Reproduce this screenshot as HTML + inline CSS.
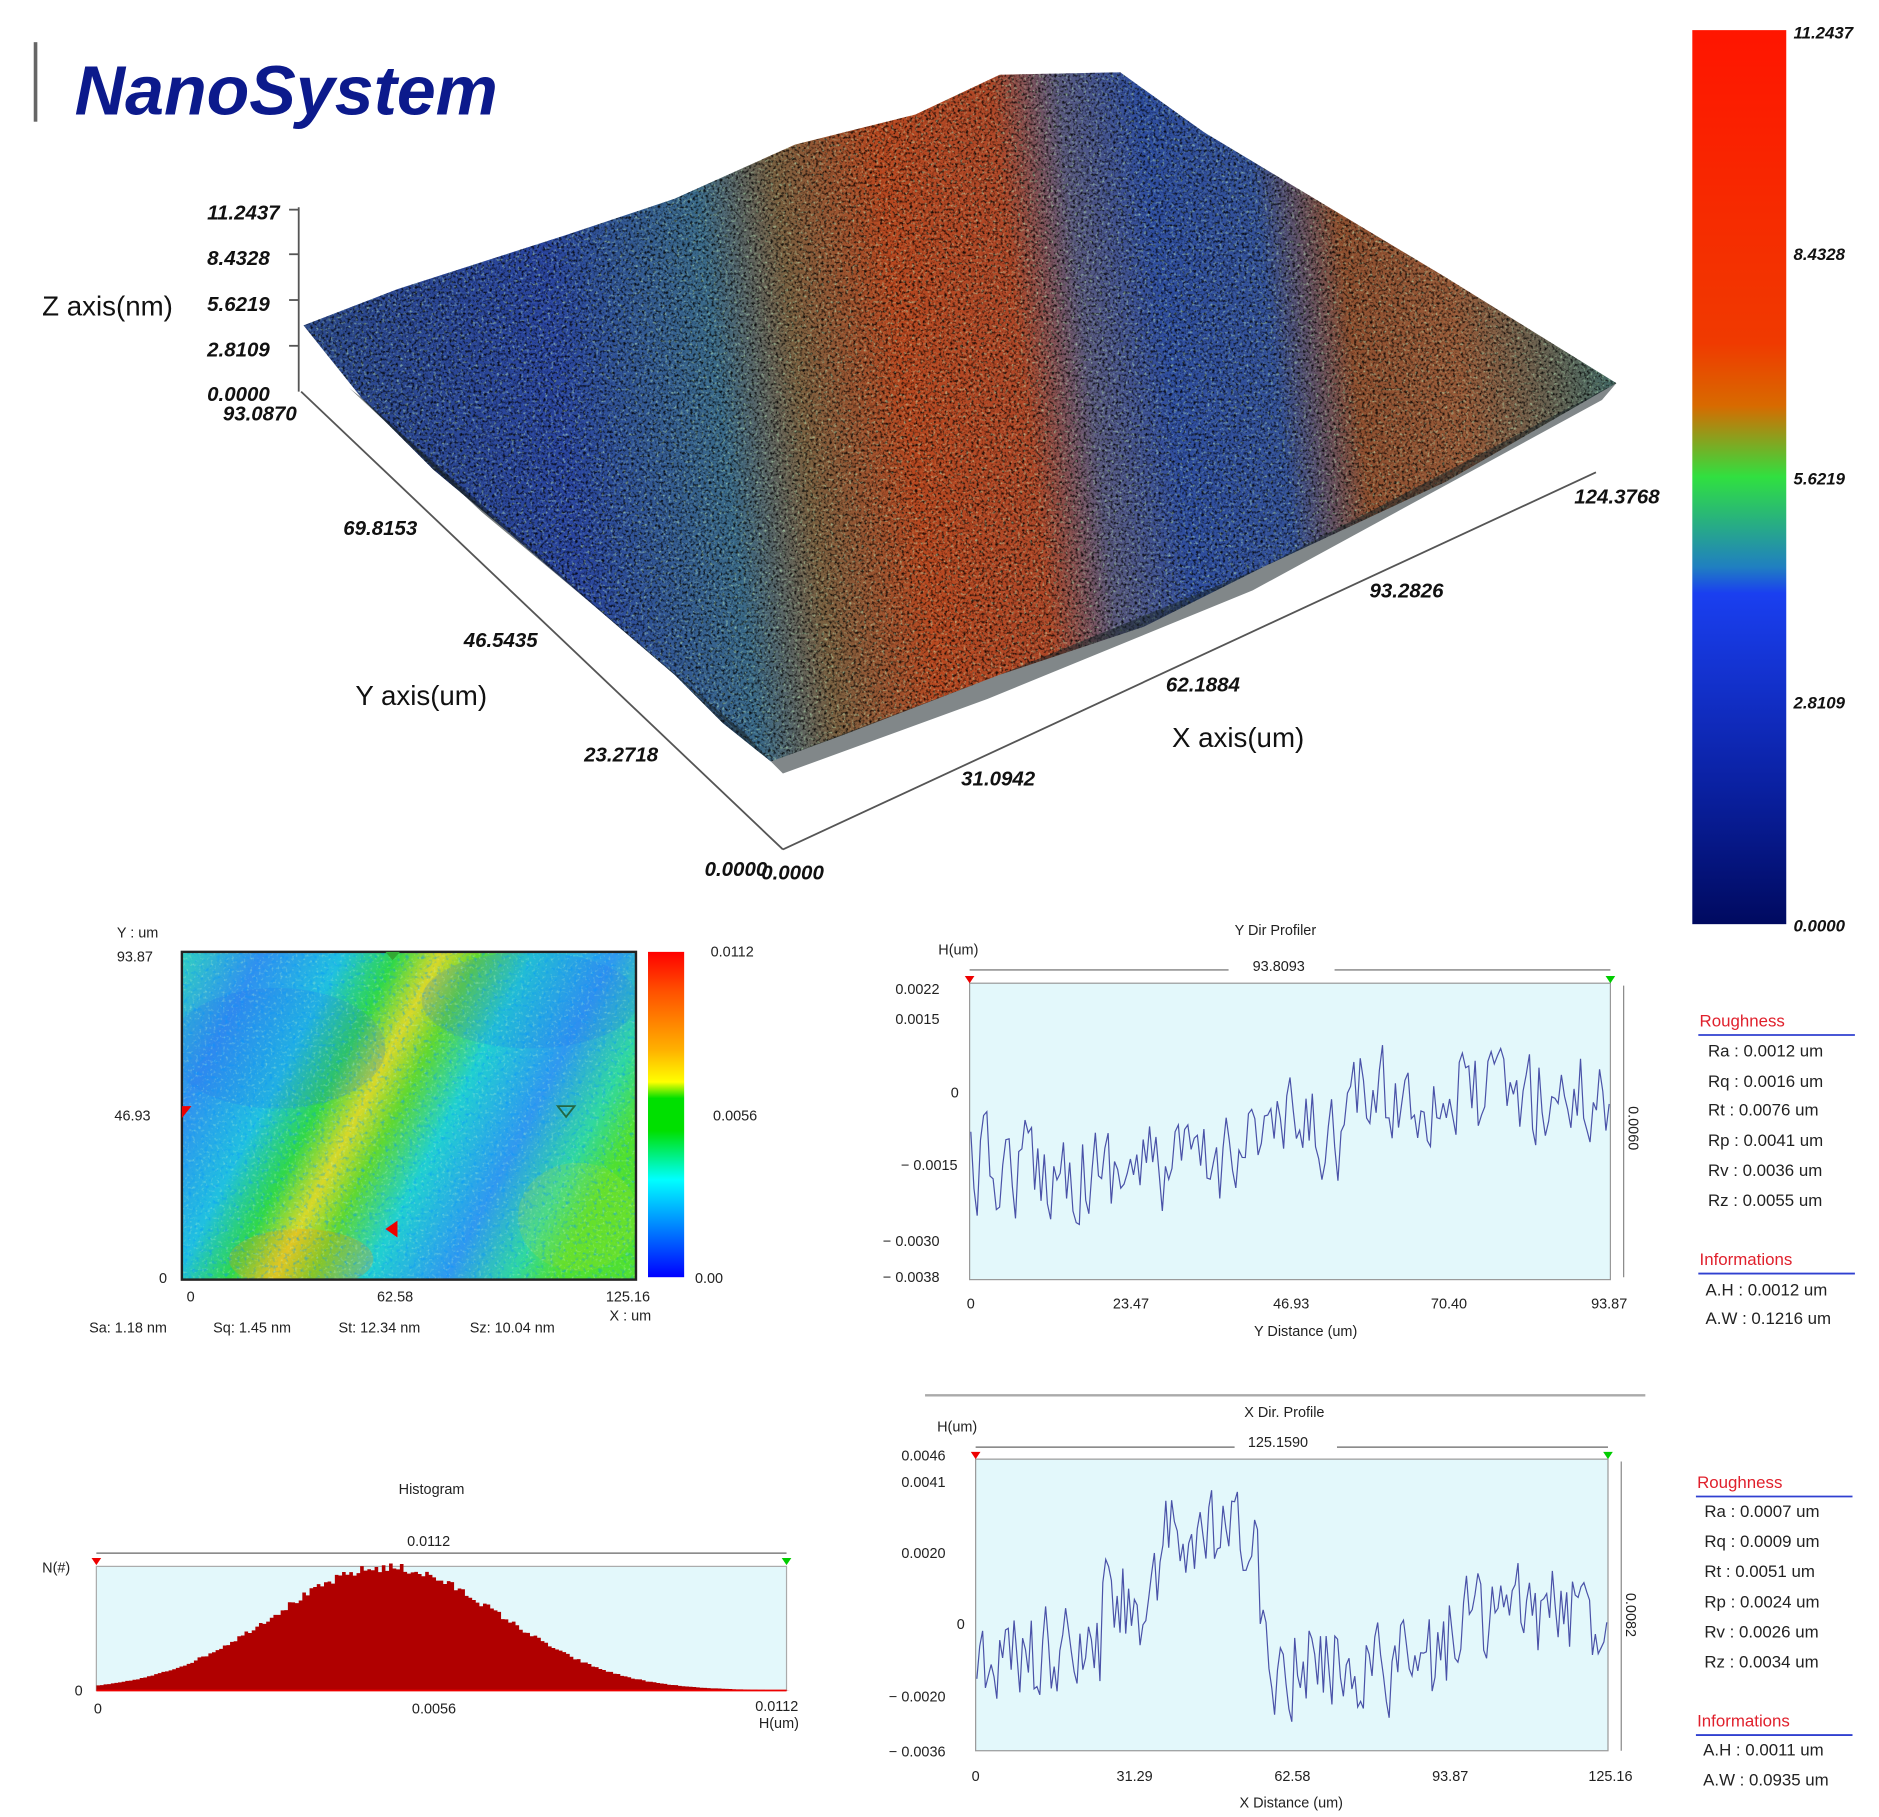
<!DOCTYPE html>
<html><head><meta charset="utf-8"><style>
html,body{margin:0;padding:0;background:#fff;}
svg{display:block;}
text{font-family:"Liberation Sans",sans-serif;}
.bi{font-weight:bold;font-style:italic;fill:#111;}
.sm{font-size:12px;fill:#222;}
.rk{font-size:14px;fill:#222;}
.rh{font-size:14px;fill:#e0202c;}
</style></head><body>
<svg id="s" width="1879" height="1817" viewBox="0 0 1560 1508" preserveAspectRatio="none" xmlns="http://www.w3.org/2000/svg">
<defs>
<linearGradient id="cb" x1="0" y1="0" x2="0" y2="1">
<stop offset="0" stop-color="#ff1500"/><stop offset="0.35" stop-color="#f03a00"/><stop offset="0.42" stop-color="#d86a00"/><stop offset="0.5" stop-color="#30e040"/><stop offset="0.6" stop-color="#2080c0"/><stop offset="0.63" stop-color="#1a3ff0"/><stop offset="0.85" stop-color="#0a20a0"/><stop offset="1" stop-color="#000a60"/>
</linearGradient>
<linearGradient id="cb2" x1="0" y1="0" x2="0" y2="1">
<stop offset="0" stop-color="#ff0000"/><stop offset="0.12" stop-color="#ff5000"/><stop offset="0.3" stop-color="#ffb000"/><stop offset="0.4" stop-color="#ffff00"/><stop offset="0.45" stop-color="#00e000"/><stop offset="0.55" stop-color="#00e000"/><stop offset="0.7" stop-color="#00ffff"/><stop offset="0.85" stop-color="#0080ff"/><stop offset="1" stop-color="#0000ff"/>
</linearGradient>
<linearGradient id="surf" gradientUnits="userSpaceOnUse" x1="250" y1="380" x2="1340" y2="260">
<stop offset="0" stop-color="#2d4a8a"/><stop offset="0.2" stop-color="#2a45a0"/><stop offset="0.32" stop-color="#3a6a8a"/><stop offset="0.38" stop-color="#7a6040"/><stop offset="0.46" stop-color="#b84820"/><stop offset="0.55" stop-color="#b04828"/><stop offset="0.6" stop-color="#5a5a80"/><stop offset="0.66" stop-color="#2f4ea0"/><stop offset="0.74" stop-color="#34529a"/><stop offset="0.8" stop-color="#905030"/><stop offset="0.88" stop-color="#985a38"/><stop offset="1" stop-color="#3f6a68"/>
</linearGradient>
<linearGradient id="hm" gradientUnits="userSpaceOnUse" x1="130" y1="830" x2="485" y2="1014">
<stop offset="0" stop-color="#30d0c0"/><stop offset="0.15" stop-color="#3090f0"/><stop offset="0.3" stop-color="#20c0e0"/><stop offset="0.4" stop-color="#30d848"/><stop offset="0.48" stop-color="#d8d828"/><stop offset="0.55" stop-color="#60d830"/><stop offset="0.65" stop-color="#20d0d0"/><stop offset="0.8" stop-color="#3098f0"/><stop offset="0.92" stop-color="#30d8a0"/><stop offset="1" stop-color="#50e030"/>
</linearGradient>
<filter id="nz" x="0" y="0" width="100%" height="100%"><feTurbulence type="fractalNoise" baseFrequency="0.45" numOctaves="2" seed="3"/><feColorMatrix values="0 0 0 0 0  0 0 0 0 0  0 0 0 0 0  0 0 0 -3 1.6"/></filter>
<filter id="nz2" x="0" y="0" width="100%" height="100%"><feTurbulence type="fractalNoise" baseFrequency="0.4" numOctaves="2" seed="7"/><feColorMatrix values="0 0 0 0 0.6  0 0 0 0 1  0 0 0 0 0.6  0 0 0 3 -1.7"/></filter>
<filter id="nz3" x="0" y="0" width="100%" height="100%"><feTurbulence type="fractalNoise" baseFrequency="0.3" numOctaves="2" seed="11"/><feColorMatrix values="0 0 0 0 0  0 0 0 0 0.3  0 0 0 0 1  0 0 0 -3 1.4"/></filter>
<clipPath id="sc"><polygon points="252,270 330,240 470,195 560,165 660,120 760,95 830,62 930,60 1000,110 1100,170 1200,230 1342,318 1200,400 1050,470 950,520 830,560 700,610 640,632 600,600 560,560 490,500 420,440 360,390 300,330"/></clipPath>
<clipPath id="hc"><rect x="151" y="790" width="377" height="272"/></clipPath>
</defs>

<rect x="28" y="35" width="3" height="66" fill="#666"/>
<text x="62" y="95" font-size="58" font-weight="bold" font-style="italic" fill="#0c1a8c">NanoSystem</text>

<g clip-path="url(#sc)">
<rect x="240" y="50" width="1110" height="590" fill="url(#surf)"/>
<rect x="240" y="50" width="1110" height="590" filter="url(#nz)" opacity="0.85"/>
<rect x="240" y="50" width="1110" height="590" filter="url(#nz2)" opacity="0.55"/>
<polygon points="252,270 300,330 640,632 600,632 252,300" fill="#101820" opacity="0.5"/>
</g>
<polygon points="300,330 420,440 560,560 640,632 620,610 520,525 400,425 290,322" fill="#1a2428" opacity="0.6"/>
<polygon points="640,632 830,560 1050,470 1342,318 1330,332 1040,490 820,580 650,642" fill="#1a2428" opacity="0.55"/>

<g stroke="#555" stroke-width="1.5" fill="none">
<line x1="248" y1="172" x2="248" y2="325"/>
<line x1="250" y1="325" x2="650" y2="705"/>
<line x1="650" y1="705" x2="1325" y2="392"/>
<line x1="240" y1="174" x2="248" y2="174"/><line x1="240" y1="211" x2="248" y2="211"/><line x1="240" y1="249" x2="248" y2="249"/><line x1="240" y1="287" x2="248" y2="287"/>
</g>
<g class="bi" font-size="17">
<text x="172" y="182">11.2437</text><text x="172" y="220">8.4328</text><text x="172" y="258">5.6219</text><text x="172" y="296">2.8109</text><text x="172" y="333">0.0000</text>
<text x="185" y="349">93.0870</text><text x="285" y="444">69.8153</text><text x="385" y="537">46.5435</text><text x="485" y="632">23.2718</text><text x="585" y="727">0.0000</text>
<text x="632" y="730">0.0000</text><text x="798" y="652">31.0942</text><text x="968" y="574">62.1884</text><text x="1137" y="496">93.2826</text><text x="1307" y="418">124.3768</text>
</g>
<g font-size="23" fill="#111">
<text x="35" y="262">Z axis(nm)</text><text x="295" y="585">Y axis(um)</text><text x="973" y="620">X axis(um)</text>
</g>

<rect x="1405" y="25" width="78" height="742" fill="url(#cb)"/>
<g class="bi" font-size="14">
<text x="1489" y="32">11.2437</text><text x="1489" y="216">8.4328</text><text x="1489" y="402">5.6219</text><text x="1489" y="588">2.8109</text><text x="1489" y="773">0.0000</text>
</g>

<g clip-path="url(#hc)">
<rect x="151" y="790" width="377" height="272" fill="url(#hm)"/>
<ellipse cx="230" cy="870" rx="90" ry="50" fill="#2a70f0" opacity="0.2"/>
<ellipse cx="440" cy="830" rx="90" ry="40" fill="#2a70f0" opacity="0.2"/>
<ellipse cx="250" cy="1045" rx="60" ry="25" fill="#ff9010" opacity="0.25"/>
<ellipse cx="480" cy="1010" rx="50" ry="45" fill="#c0e020" opacity="0.2"/>
<rect x="151" y="790" width="377" height="272" filter="url(#nz3)" opacity="0.5"/>
<rect x="151" y="790" width="377" height="272" filter="url(#nz2)" opacity="0.4"/>
</g>
<rect x="151" y="790" width="377" height="272" fill="none" stroke="#222" stroke-width="2"/>
<polygon points="151,918 159,918 151,928" fill="#e00"/>
<polygon points="463,918 477,918 470,927" fill="none" stroke="#264" stroke-width="1.5"/>
<polygon points="330,1013 330,1027 320,1020" fill="#e00"/>
<polygon points="320,790 332,790 326,797" fill="#3a3"/>
<rect x="538" y="790" width="30" height="270" fill="url(#cb2)"/>
<g class="sm" font-size="13">
<text x="97" y="778">Y : um</text><text x="97" y="798">93.87</text><text x="95" y="930">46.93</text><text x="132" y="1065">0</text>
<text x="155" y="1080">0</text><text x="313" y="1080">62.58</text><text x="503" y="1080">125.16</text><text x="506" y="1096">X : um</text>
<text x="590" y="794">0.0112</text><text x="592" y="930">0.0056</text><text x="577" y="1065">0.00</text>
<text x="74" y="1106">Sa: 1.18 nm</text><text x="177" y="1106">Sq: 1.45 nm</text><text x="281" y="1106">St: 12.34 nm</text><text x="390" y="1106">Sz: 10.04 nm</text>
</g>

<rect x="805" y="816" width="532" height="246" fill="#e3f8fb" stroke="#999"/>
<line x1="805" y1="805" x2="1020" y2="805" stroke="#666"/><line x1="1108" y1="805" x2="1337" y2="805" stroke="#666"/>
<line x1="1348" y1="818" x2="1348" y2="1060" stroke="#888"/>
<polygon points="801,810 809,810 805,816" fill="#e00"/><polygon points="1333,810 1341,810 1337,816" fill="#0c0"/>
<path id="yp" fill="none" stroke="#4a52a8" stroke-width="1"/>
<g class="sm">
<text x="1025" y="776">Y Dir Profiler</text><text x="779" y="792">H(um)</text><text x="1040" y="806">93.8093</text>
<g text-anchor="end"><text x="780" y="825">0.0022</text><text x="780" y="850">0.0015</text><text x="796" y="911">0</text><text x="795" y="971">− 0.0015</text><text x="780" y="1034">− 0.0030</text><text x="780" y="1064">− 0.0038</text></g>
<g text-anchor="middle"><text x="806" y="1086">0</text><text x="939" y="1086">23.47</text><text x="1072" y="1086">46.93</text><text x="1203" y="1086">70.40</text><text x="1336" y="1086">93.87</text><text x="1084" y="1109">Y Distance (um)</text></g>
<text transform="translate(1352,918) rotate(90)">0.0060</text>
</g>
<g>
<text x="1411" y="852" class="rh">Roughness</text><line x1="1410" y1="859" x2="1540" y2="859" stroke="#3040d0" stroke-width="1.5"/>
<text x="1418" y="877" class="rk">Ra : 0.0012 um</text><text x="1418" y="902" class="rk">Rq : 0.0016 um</text><text x="1418" y="926" class="rk">Rt :  0.0076 um</text><text x="1418" y="951" class="rk">Rp : 0.0041 um</text><text x="1418" y="976" class="rk">Rv :  0.0036 um</text><text x="1418" y="1001" class="rk">Rz :  0.0055 um</text>
<text x="1411" y="1050" class="rh">Informations</text><line x1="1410" y1="1057" x2="1540" y2="1057" stroke="#3040d0" stroke-width="1.5"/>
<text x="1416" y="1075" class="rk">A.H : 0.0012 um</text><text x="1416" y="1099" class="rk">A.W : 0.1216 um</text>
</g>

<line x1="768" y1="1158" x2="1366" y2="1158" stroke="#aaa" stroke-width="2"/>

<rect x="810" y="1211" width="525" height="242" fill="#e3f8fb" stroke="#999"/>
<line x1="810" y1="1201" x2="1025" y2="1201" stroke="#666"/><line x1="1110" y1="1201" x2="1335" y2="1201" stroke="#666"/>
<line x1="1346" y1="1213" x2="1346" y2="1453" stroke="#888"/>
<polygon points="806,1205 814,1205 810,1211" fill="#e00"/><polygon points="1331,1205 1339,1205 1335,1211" fill="#0c0"/>
<path id="xp" fill="none" stroke="#4a52a8" stroke-width="1"/>
<g class="sm">
<text x="1033" y="1176">X Dir. Profile</text><text x="778" y="1188">H(um)</text><text x="1036" y="1201">125.1590</text>
<g text-anchor="end"><text x="785" y="1212">0.0046</text><text x="785" y="1234">0.0041</text><text x="785" y="1293">0.0020</text><text x="801" y="1352">0</text><text x="785" y="1412">− 0.0020</text><text x="785" y="1458">− 0.0036</text></g>
<g text-anchor="middle"><text x="810" y="1478">0</text><text x="942" y="1478">31.29</text><text x="1073" y="1478">62.58</text><text x="1204" y="1478">93.87</text><text x="1337" y="1478">125.16</text><text x="1072" y="1500">X Distance (um)</text></g>
<text transform="translate(1350,1322) rotate(90)">0.0082</text>
</g>
<g>
<text x="1409" y="1235" class="rh">Roughness</text><line x1="1408" y1="1242" x2="1538" y2="1242" stroke="#3040d0" stroke-width="1.5"/>
<text x="1415" y="1259" class="rk">Ra : 0.0007 um</text><text x="1415" y="1284" class="rk">Rq : 0.0009 um</text><text x="1415" y="1309" class="rk">Rt :  0.0051 um</text><text x="1415" y="1334" class="rk">Rp : 0.0024 um</text><text x="1415" y="1359" class="rk">Rv :  0.0026 um</text><text x="1415" y="1384" class="rk">Rz :  0.0034 um</text>
<text x="1409" y="1433" class="rh">Informations</text><line x1="1408" y1="1440" x2="1538" y2="1440" stroke="#3040d0" stroke-width="1.5"/>
<text x="1414" y="1457" class="rk">A.H : 0.0011 um</text><text x="1414" y="1482" class="rk">A.W : 0.0935 um</text>
</g>

<rect x="80" y="1300" width="573" height="103" fill="#e3f8fb" stroke="#aaa"/>
<line x1="80" y1="1289" x2="653" y2="1289" stroke="#666"/>
<polygon points="76,1293 84,1293 80,1299" fill="#e00"/><polygon points="649,1293 657,1293 653,1299" fill="#0c0"/>
<path id="hp" fill="#b00000"/>
<line x1="80" y1="1403" x2="653" y2="1403" stroke="#e00" stroke-width="1.5"/>
<g class="sm">
<text x="331" y="1240">Histogram</text><text x="338" y="1283">0.0112</text><text x="35" y="1305">N(#)</text><text x="62" y="1407">0</text>
<text x="78" y="1422">0</text><text x="342" y="1422">0.0056</text><text x="627" y="1420">0.0112</text><text x="630" y="1434">H(um)</text>
</g>
</svg>
<script>
var seed=12345;function r(){seed=(seed*16807)%2147483647;return seed/2147483647;}
function prof(id,x0,x1,ymid,trend,amp,n){var d="",prev=0;for(var i=0;i<=n;i++){var t=i/n;var x=x0+(x1-x0)*t;var v=prev*0.3+(r()-0.5)*2*amp;prev=v;var y=ymid+trend(t)+v;d+=(i?"L":"M")+x.toFixed(1)+","+y.toFixed(1);}document.getElementById(id).setAttribute("d",d);}
prof("yp",806,1336,950,function(t){return t<0.4?20:(t<0.6?-10:-40);},38,200);
prof("xp",811,1334,1360,function(t){return t<0.2?15:(t<0.3?-30:(t<0.45?-80:(t<0.75?20:-20)));},38,220);
var d="M80,1403";for(var x=80;x<=653;x+=3){var g=Math.exp(-Math.pow((x-320)/95,2)/2);var y=1403-102*g*(0.96+0.08*r());d+="L"+x+","+y.toFixed(1)+"L"+(x+3)+","+y.toFixed(1);}d+="L653,1403Z";document.getElementById("hp").setAttribute("d",d);
</script>
</body></html>
